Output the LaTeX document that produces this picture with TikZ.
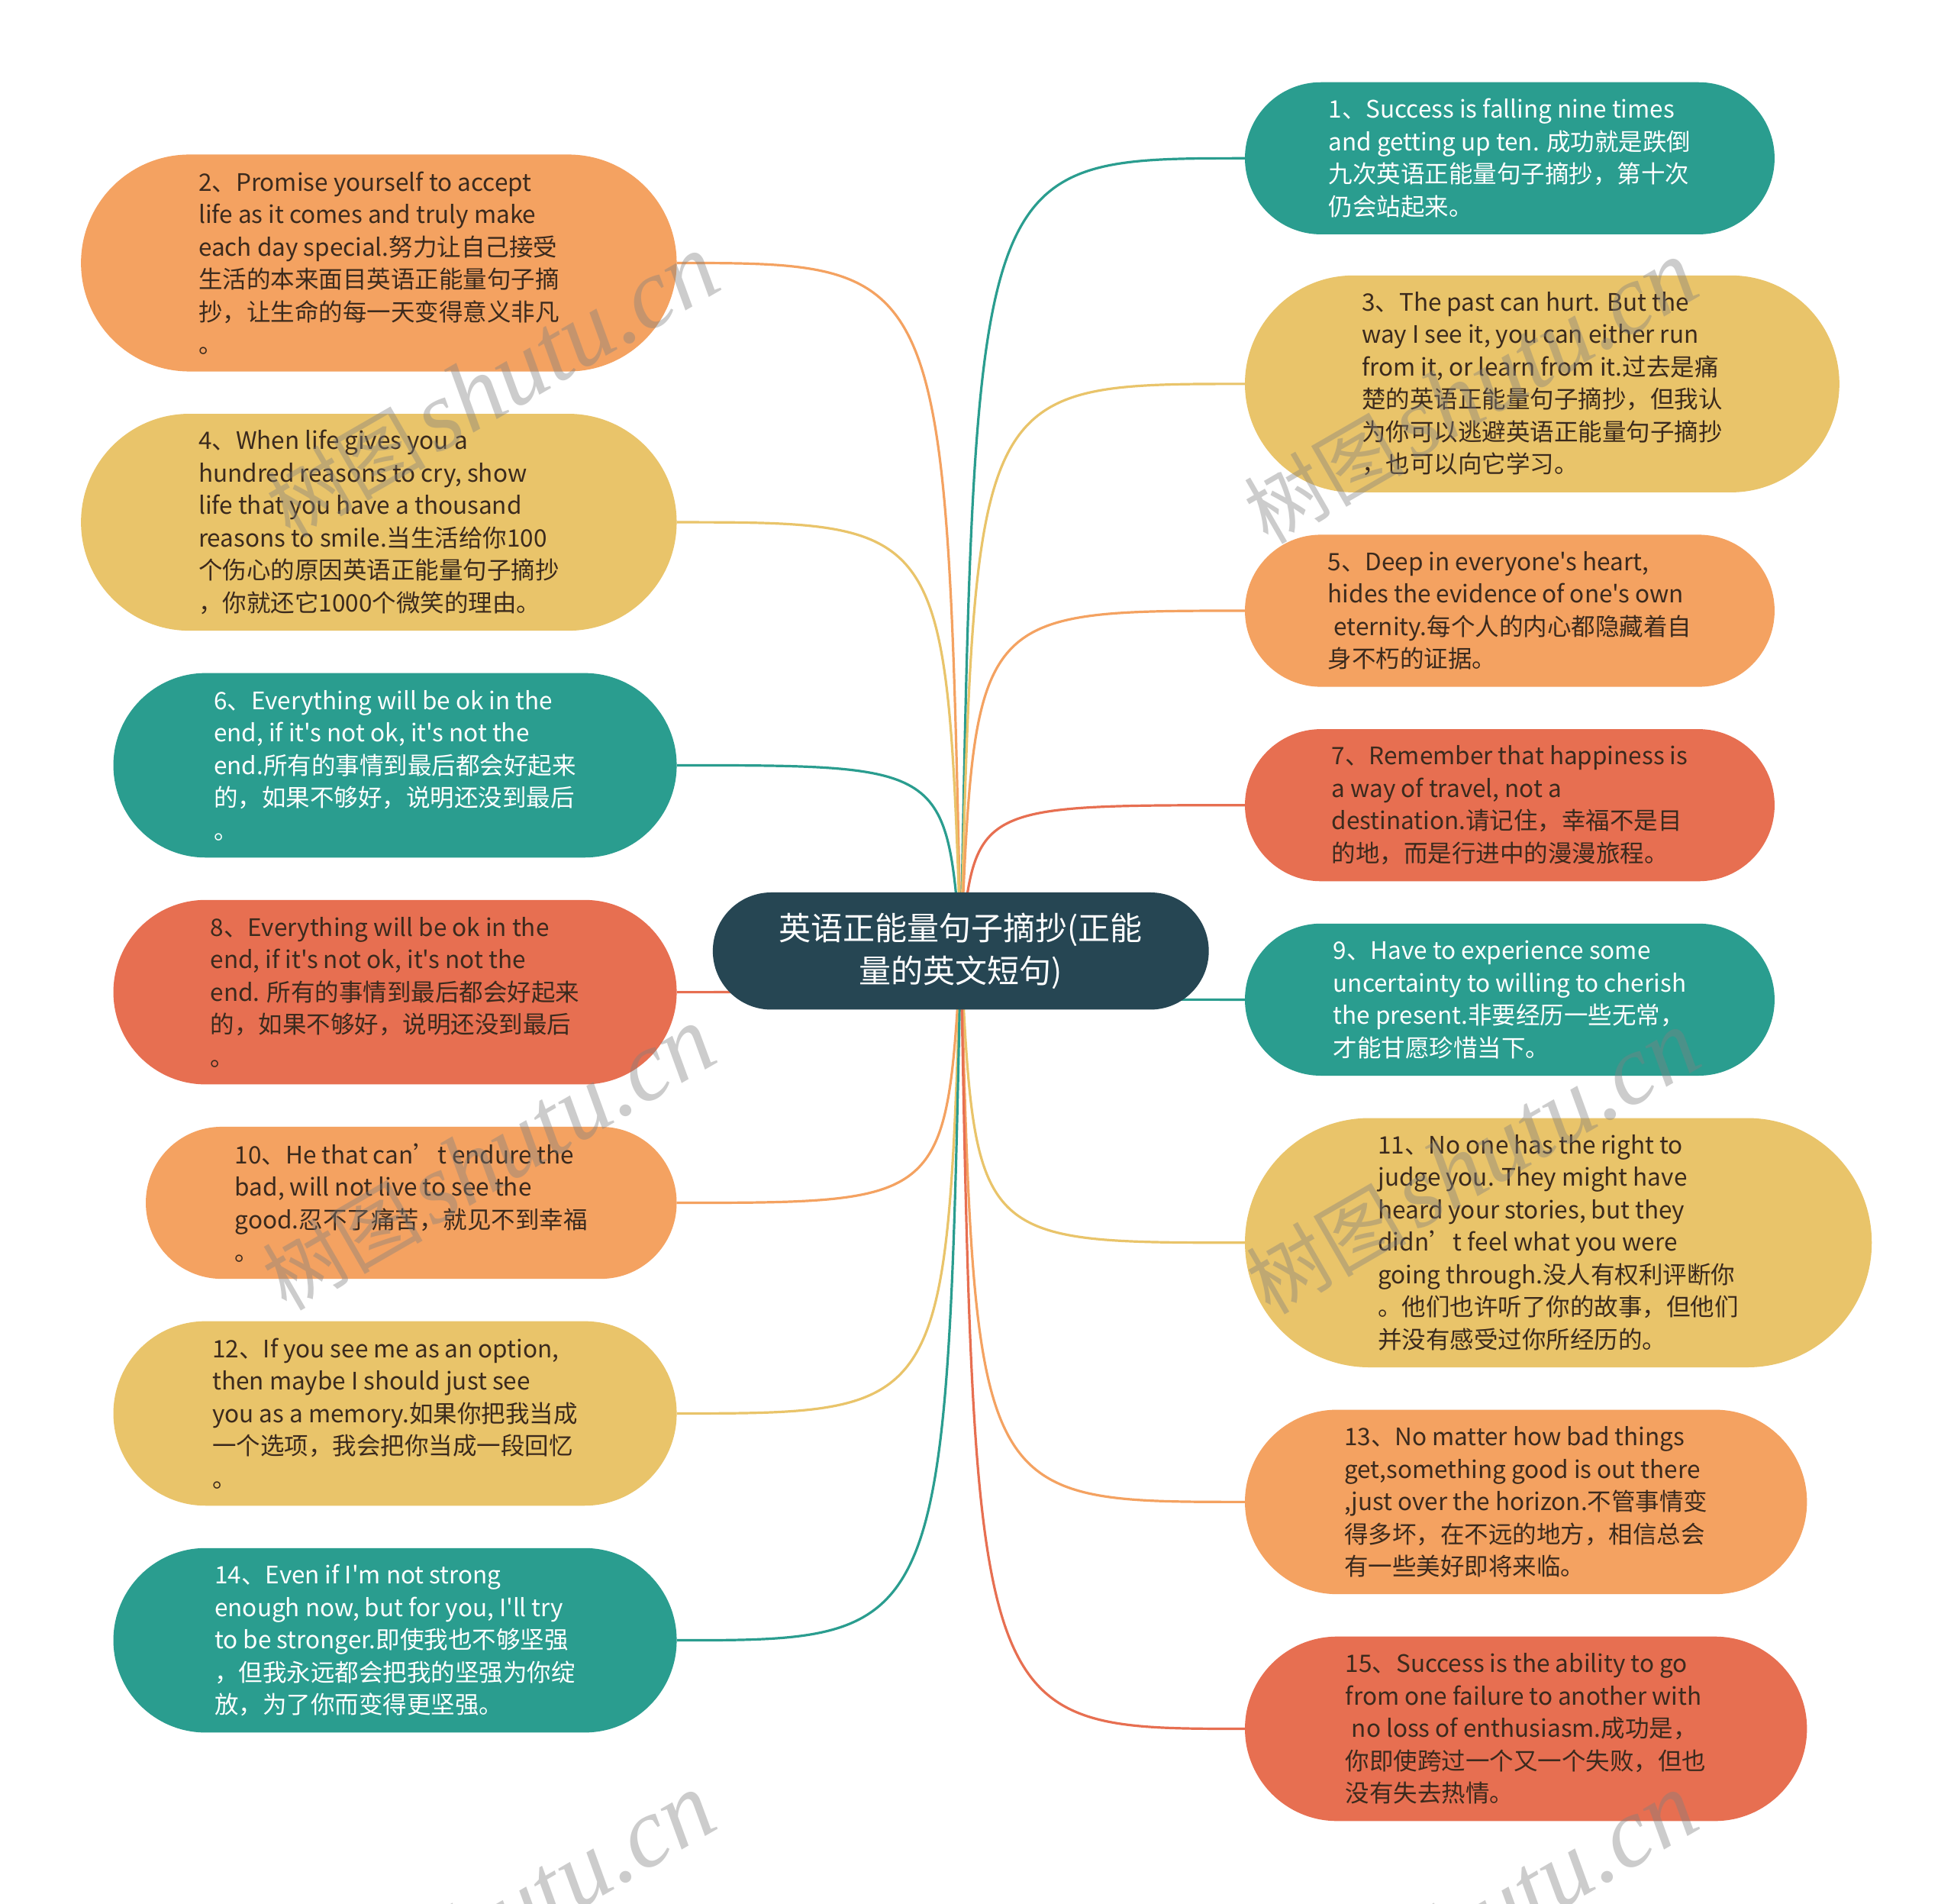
\documentclass[tikz,border=0pt]{standalone}
\usepackage{fontspec}
\setmainfont{Noto Sans CJK SC}[Ligatures=TeXOff]
\newfontfamily\wmlatin{Liberation Serif}
\usetikzlibrary{calc,backgrounds}
\definecolor{cteal}{HTML}{2A9D8F}
\definecolor{cyel}{HTML}{E9C46A}
\definecolor{corg}{HTML}{F4A261}
\definecolor{cred}{HTML}{E76F51}
\definecolor{cdark}{HTML}{264653}
\definecolor{tdark}{HTML}{3B2A1D}
\newcommand\conn[3]{\draw[link,#3] let \p1=(ctr.center),\p2=(#1.#2) in (\p1) .. controls ({\x1+0.05*(\x2-\x1)},\y2) .. (\p2);}
\begin{document}
\begin{tikzpicture}[x=1.63265pt,y=-1.63265pt,
  pill/.style n args={3}{rectangle, inner sep=0pt, align=left,
     minimum width=#1pt, minimum height=#2pt, rounded corners=#3pt,
     font=\fontsize{31.5}{42.5}\selectfont},
  teal/.style={fill=cteal, text=white},
  yel/.style={fill=cyel, text=tdark},
  org/.style={fill=corg, text=tdark},
  red/.style={fill=cred, text=tdark},
  link/.style={line width=3.2pt},
  wm/.style={rotate=30, text=gray, opacity=0.4, inner sep=0pt}]
\useasboundingbox (0,0) rectangle (1568,1527);

% ---- centre
\node[pill={649.8}{153.5}{76.7}, fill=cdark, text=white, align=center,
      font=\fontsize{42}{55.5}\selectfont] (ctr) at (771,763)
  {英语正能量句子摘抄(正能\\量的英文短句)};

% ---- left side
\node[pill={780.4}{284.1}{142}, org] (n2) at (304,211)
  {2、Promise yourself to accept\\life as it comes and truly make\\each day special.努力让自己接受\\生活的本来面目英语正能量句子摘\\抄，让生命的每一天变得意义非凡\\。};
\node[pill={780.4}{284.1}{142}, yel] (n4) at (304,419)
  {4、When life gives you a\\hundred reasons to cry, show\\life that you have a thousand\\reasons to smile.当生活给你100\\个伤心的原因英语正能量句子摘抄\\，你就还它1000个微笑的理由。};
\node[pill={738.0}{241.6}{120.7}, teal] (n6) at (317,614)
  {6、Everything will be ok in the\\end, if it's not ok, it's not the\\end.所有的事情到最后都会好起来\\的，如果不够好，说明还没到最后\\。};
\node[pill={738.0}{241.6}{120.7}, red] (n8) at (317,796)
  {8、Everything will be ok in the\\end, if it's not ok, it's not the\\end. 所有的事情到最后都会好起来\\的，如果不够好，说明还没到最后\\。};
\node[pill={695.5}{199.2}{99.5}, org] (n10) at (330,965)
  {10、He that can’t endure the\\bad, will not live to see the\\good.忍不了痛苦，就见不到幸福\\。};
\node[pill={738.0}{241.6}{120.7}, yel] (n12) at (317,1134)
  {12、If you see me as an option,\\then maybe I should just see\\you as a memory.如果你把我当成\\一个选项，我会把你当成一段回忆\\。};
\node[pill={738.0}{241.6}{120.7}, teal] (n14) at (317,1316)
  {14、Even if I'm not strong\\enough now, but for you, I'll try\\to be stronger.即使我也不够坚强\\，但我永远都会把我的坚强为你绽\\放，为了你而变得更坚强。};

% ---- right side
\node[pill={693.9}{199.2}{99.5}, teal] (n1) at (1211.5,127)
  {1、Success is falling nine times\\and getting up ten. 成功就是跌倒\\九次英语正能量句子摘抄，第十次\\仍会站起来。};
\node[pill={778.8}{284.1}{142}, yel] (n3) at (1237.5,308)
  {3、The past can hurt. But the\\way I see it, you can either run\\from it, or learn from it.过去是痛\\楚的英语正能量句子摘抄，但我认\\为你可以逃避英语正能量句子摘抄\\，也可以向它学习。};
\node[pill={693.9}{199.2}{99.5}, org] (n5) at (1211.5,490)
  {5、Deep in everyone's heart,\\hides the evidence of one's own\\\hspace*{0.25em}eternity.每个人的内心都隐藏着自\\身不朽的证据。};
\node[pill={693.9}{199.2}{99.5}, red] (n7) at (1211.5,646)
  {7、Remember that happiness is\\a way of travel, not a\\destination.请记住，幸福不是目\\的地，而是行进中的漫漫旅程。};
\node[pill={693.9}{199.2}{99.5}, teal] (n9) at (1211.5,802)
  {9、Have to experience some\\uncertainty to willing to cherish\\the present.非要经历一些无常，\\才能甘愿珍惜当下。};
\node[pill={821.2}{326.5}{163.2}, yel] (n11) at (1250.5,997)
  {11、No one has the right to\\judge you. They might have\\heard your stories, but they\\didn’t feel what you were\\going through.没人有权利评断你\\。他们也许听了你的故事，但他们\\并没有感受过你所经历的。};
\node[pill={736.3}{241.6}{120.7}, org] (n13) at (1224.5,1205)
  {13、No matter how bad things\\get,something good is out there\\,just over the horizon.不管事情变\\得多坏，在不远的地方，相信总会\\有一些美好即将来临。};
\node[pill={736.3}{241.6}{120.7}, red] (n15) at (1224.5,1387)
  {15、Success is the ability to go\\from one failure to another with\\\hspace*{0.25em}no loss of enthusiasm.成功是，\\你即使跨过一个又一个失败，但也\\没有失去热情。};

% ---- connectors
\begin{pgfonlayer}{background}
\fill[white] (0,0) rectangle (1568,1527);
\conn{n2}{east}{corg}
\conn{n4}{east}{cyel}
\conn{n6}{east}{cteal}
\conn{n8}{east}{cred}
\conn{n10}{east}{corg}
\conn{n12}{east}{cyel}
\conn{n14}{east}{cteal}
\conn{n1}{west}{cteal}
\conn{n3}{west}{cyel}
\conn{n5}{west}{corg}
\conn{n7}{west}{cred}
\conn{n9}{west}{cteal}
\conn{n11}{west}{cyel}
\conn{n13}{west}{corg}
\conn{n15}{west}{cred}
\end{pgfonlayer}

% ---- watermarks
\begin{scope}
\clip (0,0) rectangle (1568,1527);
\foreach \i/\px/\py in {1/395/310, 2/1180/315, 3/392/930, 4/1182/933, 5/392/1545, 6/1180/1545}{
  \node[wm] (wm\i) at (\px,\py)
    {{\fontsize{105}{105}\selectfont 树图}\hspace{12pt}{\wmlatin\itshape\fontsize{130}{130}\selectfont shutu.cn}};
}
\end{scope}
\end{tikzpicture}
\end{document}
